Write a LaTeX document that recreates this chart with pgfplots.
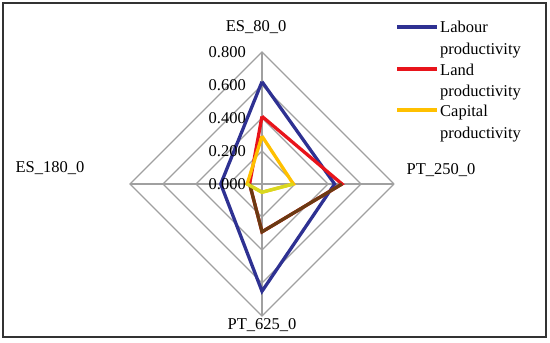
\documentclass[border=0pt]{standalone}
\usepackage{fontspec}
\setmainfont{Liberation Serif}
\usepackage{pgfplots}
\pgfplotsset{compat=1.18}
\definecolor{labour}{HTML}{2E3192}
\definecolor{land}{HTML}{E8141B}
\definecolor{capital}{HTML}{FFC000}
\definecolor{brownov}{HTML}{6B3A12}
\definecolor{yellowov}{HTML}{D8D820}
\definecolor{gridc}{HTML}{A0A0A0}
\begin{document}
\begin{tikzpicture}
\path (0,0) rectangle (550pt,343pt);
\begin{axis}[
  at={(0,0)}, anchor=south west,
  scale only axis, x=165pt, y=165pt,
  xmin=-1.5879, xmax=1.7455, ymin=-0.9636, ymax=1.1152,
  hide axis, clip=false,
  every axis plot/.append style={line join=miter},
  font=\fontsize{16.5}{19}\selectfont,
]
% frame
\draw[line width=1.4pt, black!80] (axis cs:-1.5697,1.097) rectangle (axis cs:1.7212,-0.9273);
% grid diamonds
\addplot[gridc, line width=1.1pt, data cs=polar] coordinates {(0,0.2) (90,0.2) (180,0.2) (270,0.2) (360,0.2)};
\addplot[gridc, line width=1.1pt, data cs=polar] coordinates {(0,0.4) (90,0.4) (180,0.4) (270,0.4) (360,0.4)};
\addplot[gridc, line width=1.1pt, data cs=polar] coordinates {(0,0.6) (90,0.6) (180,0.6) (270,0.6) (360,0.6)};
\addplot[gridc, line width=1.1pt, data cs=polar] coordinates {(0,0.8) (90,0.8) (180,0.8) (270,0.8) (360,0.8)};
% spokes
\addplot[gridc, line width=1.1pt, data cs=polar] coordinates {(0,0.8) (0,0) (180,0.8)};
\addplot[gridc, line width=1.1pt, data cs=polar] coordinates {(90,0.8) (0,0) (270,0.8)};
% series
\addplot[labour, line width=3.3pt, data cs=polar] coordinates {(90,0.62) (0,0.44) (-90,0.65) (180,0.25) (90,0.62)};
\addplot[land, line width=3.3pt, data cs=polar] coordinates {(90,0.41) (0,0.485) (-90,0.29) (180,0.075) (90,0.41)};
\addplot[capital, line width=3.3pt, data cs=polar] coordinates {(90,0.29) (0,0.19) (-90,0.05) (180,0.09) (90,0.29)};
\addplot[brownov, line width=3.3pt, data cs=polar] coordinates {(180,0.075) (-90,0.29) (0,0.485)};
\addplot[yellowov, line width=3.3pt, data cs=polar] coordinates {(0,0.19) (-90,0.05) (180,0.09)};
% category labels
\node at (axis cs:-0.036,0.952) {ES\_80\_0};
\node[anchor=west] at (axis cs:0.855,0.085) {PT\_250\_0};
\node at (axis cs:0,-0.855) {PT\_625\_0};
\node at (axis cs:-1.285,0.097) {ES\_180\_0};
% tick labels
\node[anchor=east, inner sep=0pt] at (axis cs:-0.097,0.8) {0.800};
\node[anchor=east, inner sep=0pt] at (axis cs:-0.097,0.6) {0.600};
\node[anchor=east, inner sep=0pt] at (axis cs:-0.097,0.4) {0.400};
\node[anchor=east, inner sep=0pt] at (axis cs:-0.097,0.2) {0.200};
\node[anchor=east, inner sep=0pt] at (axis cs:-0.097,0.0) {0.000};
% legend
\draw[labour, line width=3.3pt] (axis cs:0.8182,0.9515) -- (axis cs:1.0606,0.9515);
\draw[land, line width=3.3pt] (axis cs:0.8182,0.697) -- (axis cs:1.0606,0.697);
\draw[capital, line width=3.3pt] (axis cs:0.8182,0.4485) -- (axis cs:1.0606,0.4485);
\node[anchor=base west, inner sep=0pt] at (axis cs:1.0788,0.9152) {Labour};
\node[anchor=base west, inner sep=0pt] at (axis cs:1.0788,0.7879) {productivity};
\node[anchor=base west, inner sep=0pt] at (axis cs:1.0788,0.6606) {Land};
\node[anchor=base west, inner sep=0pt] at (axis cs:1.0788,0.5333) {productivity};
\node[anchor=base west, inner sep=0pt] at (axis cs:1.0788,0.4061) {Capital};
\node[anchor=base west, inner sep=0pt] at (axis cs:1.0788,0.2788) {productivity};
\end{axis}
\end{tikzpicture}
\end{document}
